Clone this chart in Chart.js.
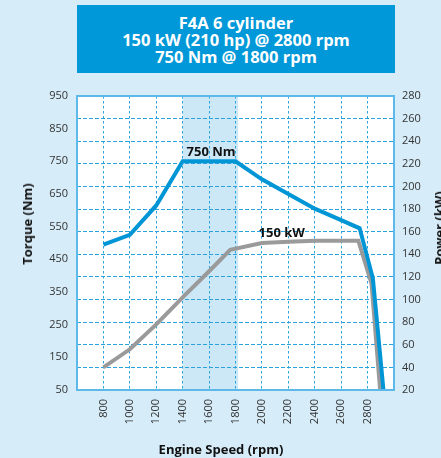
<!DOCTYPE html>
<html lang="en">
<head>
  <meta charset="UTF-8">
  <title>F4A 6 cylinder - Torque and Power</title>
  <style>
    body { margin: 0; background: #d6ecf8; font-family: "Open Sans", Arial, sans-serif; }
    .wrap { position: relative; width: 441px; height: 458px; overflow: hidden; background: #d6ecf8; }
    .title-box { position: absolute; left: 77px; top: 5px; width: 318px; height: 68px; background: #0098d8;
      color: #fff; font-weight: bold; font-size: 16.5px; line-height: 17px; text-align: center;
      display: flex; flex-direction: column; justify-content: center; }
    .axis-title { position: absolute; font-weight: bold; font-size: 13px; color: #111; white-space: nowrap; }
    #torqueTitle { left: 27px; top: 224px; transform: translate(-50%, -50%) rotate(-90deg); }
    #powerTitle { left: 439px; top: 228px; transform: translate(-50%, -50%) rotate(-90deg); }
    #speedTitle { left: 221px; top: 449px; transform: translate(-50%, -50%); }
    canvas { position: absolute; left: 0; top: 0; }
  </style>
  <script src="https://cdn.jsdelivr.net/npm/chart.js"></script>
</head>
<body>
  <div class="wrap">
    <div class="title-box">
      <div>F4A 6 cylinder</div>
      <div>150 kW (210 hp) @ 2800 rpm</div>
      <div>750 Nm @ 1800 rpm</div>
    </div>
    <canvas id="curveChart" width="441" height="458"></canvas>
    <div class="axis-title" id="torqueTitle">Torque (Nm)</div>
    <div class="axis-title" id="powerTitle">Power (kW)</div>
    <div class="axis-title" id="speedTitle">Engine Speed (rpm)</div>
  </div>

  <script>
    // Torque curve (left axis, Nm)
    const torqueRpm = [800, 1000, 1200, 1400, 1800, 2000, 2200, 2400, 2600, 2740, 2840, 2920];
    const torqueNm = [495, 525, 615, 750, 750, 695, 650, 605, 570, 545, 392, 50];

    // Power curve (right axis, kW)
    const powerRpm = [800, 1000, 1200, 1400, 1600, 1760, 2000, 2200, 2400, 2600, 2730, 2830, 2895];
    const powerKw = [40, 56, 78, 102, 125, 144, 150, 151, 152, 152, 152, 114, 20];

    // axis ranges / tick steps
    const rpmRange = [600, 3000, 200];
    const torqueRange = [50, 950, 100];
    const powerRange = [20, 280, 20];

    // shaded max torque band
    const torqueBand = [1400, 1820];

    // peak labels
    const peakLabels = [
      { text: '750 Nm', x: 1615, y: 750, axis: 'yT' },
      { text: '150 kW', x: 2150, y: 151, axis: 'yP' }
    ];

    const gridBlue = '#2aa2dd';
    const tickFont = { family: 'Open Sans', size: 11 };

    const plotDecor = {
      id: 'plotDecor',
      beforeDraw(chart) {
        const { ctx, chartArea: a, scales } = chart;
        ctx.save();
        ctx.fillStyle = '#ffffff';
        ctx.fillRect(a.left, a.top, a.right - a.left, a.bottom - a.top);
        const x1 = scales.x.getPixelForValue(torqueBand[0]);
        const x2 = scales.x.getPixelForValue(torqueBand[1]);
        ctx.fillStyle = '#cce8f7';
        ctx.fillRect(x1, a.top, x2 - x1, a.bottom - a.top);
        ctx.restore();
      },
      afterDraw(chart) {
        const { ctx, chartArea: a, scales } = chart;
        ctx.save();
        ctx.strokeStyle = '#5cb9e9';
        ctx.lineWidth = 2;
        ctx.strokeRect(a.left, a.top, a.right - a.left, a.bottom - a.top);
        ctx.fillStyle = '#111';
        ctx.font = 'bold 13px "Open Sans"';
        ctx.textAlign = 'center';
        ctx.textBaseline = 'alphabetic';
        peakLabels.forEach(l => {
          const px = scales.x.getPixelForValue(l.x);
          const py = scales[l.axis].getPixelForValue(l.y);
          ctx.fillText(l.text, px, py - 5);
        });
        ctx.restore();
      }
    };

    new Chart(document.getElementById('curveChart'), {
      type: 'line',
      data: {
        datasets: [
          {
            label: 'Torque',
            data: torqueRpm.map((r, i) => ({ x: r, y: torqueNm[i] })),
            yAxisID: 'yT',
            borderColor: '#0096d6',
            borderWidth: 4,
            pointRadius: 0,
            tension: 0,
            borderJoinStyle: 'miter'
          },
          {
            label: 'Power',
            data: powerRpm.map((r, i) => ({ x: r, y: powerKw[i] })),
            yAxisID: 'yP',
            borderColor: '#9a9a9a',
            borderWidth: 4,
            pointRadius: 0,
            tension: 0,
            borderJoinStyle: 'miter'
          }
        ]
      },
      options: {
        responsive: false,
        animation: false,
        devicePixelRatio: 1,
        layout: { padding: { top: 96, left: 0, right: 0, bottom: 0 } },
        plugins: { legend: { display: false }, tooltip: { enabled: false } },
        scales: {
          x: {
            type: 'linear',
            min: rpmRange[0], max: rpmRange[1],
            afterFit(s) { s.height = 68; },
            ticks: {
              stepSize: rpmRange[2],
              minRotation: 90, maxRotation: 90,
              padding: 9,
              color: '#333', font: tickFont,
              callback: v => (v === rpmRange[0] || v === rpmRange[1]) ? '' : String(v)
            },
            grid: { color: gridBlue, lineWidth: 1, drawTicks: false },
            border: { display: false, dash: [2.5, 2.5] }
          },
          yT: {
            type: 'linear',
            position: 'left',
            min: torqueRange[0], max: torqueRange[1],
            afterFit(s) { s.width = 77; },
            ticks: { stepSize: torqueRange[2], padding: 9, color: '#333', font: tickFont },
            grid: { display: false, drawTicks: false },
            border: { display: false }
          },
          yP: {
            type: 'linear',
            position: 'right',
            min: powerRange[0], max: powerRange[1],
            afterFit(s) { s.width = 47; },
            ticks: { stepSize: powerRange[2], padding: 8, color: '#333', font: tickFont },
            grid: { color: gridBlue, lineWidth: 1, drawTicks: false },
            border: { display: false, dash: [4, 2] }
          }
        }
      },
      plugins: [plotDecor]
    });
  </script>
</body>
</html>
